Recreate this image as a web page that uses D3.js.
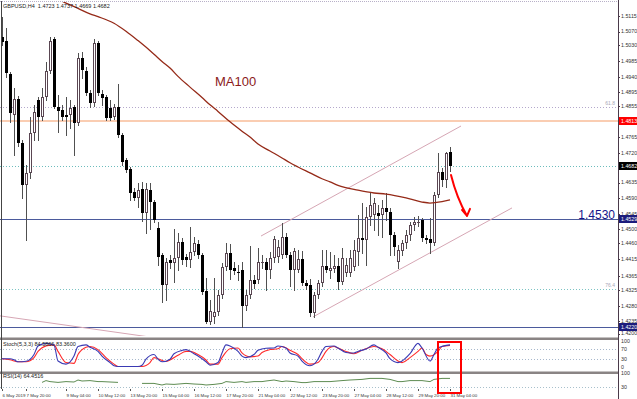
<!DOCTYPE html>
<html>
<head>
<meta charset="utf-8">
<script src="https://cdn.jsdelivr.net/npm/d3@7"></script>
<style>
  body { margin: 0; background: #fff; }
  svg { display: block; font-family: "Liberation Sans", Arial, sans-serif; }
</style>
</head>
<body>
<svg id="chart" width="637" height="399"></svg>
<script>

// ---- candles (GBPUSD H4), one entry per bar ----
let opens = [1.5054,1.5043,1.4948,1.4830,1.4876,1.4749,1.4628,1.4663,1.4778,1.4873,
             1.4824,1.4882,1.4957,1.5049,1.4853,1.4844,1.4830,1.4830,1.4853,1.4807,
             1.4994,1.4957,1.4893,1.4864,1.5037,1.4890,1.4882,1.4850,1.4824,1.4853,
             1.4772,1.4700,1.4674,1.4608,1.4591,1.4617,1.4548,1.4614,1.4579,1.4504,
             1.4427,1.4340,1.4412,1.4404,1.4418,1.4464,1.4421,1.4412,1.4435,1.4458,
             1.4427,1.4323,1.4234,1.4248,1.4262,1.4311,1.4392,1.4432,1.4389,1.4378,
             1.4383,1.4280,1.4311,1.4355,1.4355,1.4404,1.4406,1.4383,1.4418,1.4421,
             1.4427,1.4478,1.4427,1.4383,1.4383,1.4415,1.4346,1.4340,1.4259,1.4311,
             1.4346,1.4395,1.4381,1.4386,1.4395,1.4349,1.4375,1.4375,1.4392,1.4435,
             1.4476,1.4470,1.4536,1.4542,1.4548,1.4542,1.4562,1.4550,1.4484,1.4406,
             1.4438,1.4461,1.4484,1.4513,1.4519,1.4527,1.4476,1.4473,1.4461,1.4599,
             1.4666,1.4643,1.4723]
let highs = [1.5112,1.5080,1.4954,1.4908,1.4885,1.4758,1.4686,1.4824,1.4859,1.4882,
             1.4908,1.4982,1.5054,1.5054,1.4887,1.4859,1.4882,1.4873,1.4859,1.5008,
             1.5011,1.4968,1.4902,1.5049,1.5043,1.4902,1.4887,1.4873,1.4862,1.4919,
             1.4778,1.4706,1.4680,1.4620,1.4634,1.4637,1.4634,1.4634,1.4585,1.4522,
             1.4432,1.4418,1.4427,1.4502,1.4490,1.4476,1.4429,1.4507,1.4478,1.4470,
             1.4432,1.4360,1.4297,1.4360,1.4326,1.4404,1.4461,1.4458,1.4406,1.4398,
             1.4406,1.4326,1.4453,1.4369,1.4447,1.4427,1.4418,1.4435,1.4481,1.4470,
             1.4519,1.4490,1.4435,1.4447,1.4441,1.4438,1.4355,1.4357,1.4320,1.4355,
             1.4441,1.4441,1.4435,1.4427,1.4418,1.4447,1.4418,1.4441,1.4470,1.4542,
             1.4576,1.4565,1.4605,1.4591,1.4571,1.4585,1.4605,1.4562,1.4493,1.4455,
             1.4470,1.4499,1.4522,1.4536,1.4539,1.4533,1.4484,1.4533,1.4608,1.4720,
             1.4677,1.4723,1.4737]
let lows = [1.5031,1.4939,1.4810,1.4715,1.4741,1.4591,1.4470,1.4648,1.4758,1.4758,
            1.4815,1.4873,1.4951,1.4850,1.4781,1.4815,1.4772,1.4792,1.4715,1.4801,
            1.4936,1.4887,1.4853,1.4856,1.4887,1.4859,1.4815,1.4815,1.4818,1.4766,
            1.4686,1.4666,1.4585,1.4585,1.4565,1.4525,1.4490,1.4502,1.4522,1.4398,
            1.4291,1.4297,1.4389,1.4349,1.4383,1.4401,1.4395,1.4392,1.4427,1.4418,
            1.4314,1.4231,1.4228,1.4231,1.4254,1.4303,1.4383,1.4357,1.4372,1.4355,
            1.4219,1.4268,1.4303,1.4332,1.4346,1.4389,1.4326,1.4360,1.4406,1.4406,
            1.4418,1.4421,1.4337,1.4326,1.4378,1.4340,1.4329,1.4251,1.4248,1.4303,
            1.4337,1.4378,1.4360,1.4378,1.4329,1.4343,1.4366,1.4366,1.4383,1.4398,
            1.4432,1.4398,1.4513,1.4499,1.4484,1.4478,1.4527,1.4427,1.4427,1.4389,
            1.4427,1.4447,1.4470,1.4499,1.4510,1.4467,1.4461,1.4432,1.4455,1.4594,
            1.4625,1.4622,1.4669]
let closes = [1.5040,1.4951,1.4836,1.4876,1.4749,1.4628,1.4663,1.4778,1.4838,1.4824,
              1.4882,1.4957,1.5043,1.4853,1.4841,1.4824,1.4824,1.4850,1.4807,1.4994,
              1.4959,1.4893,1.4864,1.5037,1.4893,1.4879,1.4821,1.4821,1.4853,1.4772,
              1.4695,1.4671,1.4605,1.4591,1.4614,1.4548,1.4617,1.4579,1.4527,1.4421,
              1.4340,1.4406,1.4404,1.4418,1.4464,1.4412,1.4412,1.4435,1.4461,1.4427,
              1.4320,1.4234,1.4265,1.4262,1.4311,1.4392,1.4432,1.4383,1.4381,1.4375,
              1.4280,1.4311,1.4355,1.4343,1.4406,1.4406,1.4383,1.4418,1.4473,1.4450,
              1.4478,1.4427,1.4383,1.4438,1.4415,1.4346,1.4337,1.4259,1.4311,1.4346,
              1.4395,1.4383,1.4389,1.4395,1.4349,1.4418,1.4398,1.4418,1.4441,1.4476,
              1.4470,1.4536,1.4571,1.4576,1.4539,1.4562,1.4550,1.4484,1.4450,1.4441,
              1.4461,1.4484,1.4513,1.4522,1.4522,1.4476,1.4470,1.4461,1.4599,1.4666,
              1.4643,1.4720,1.4682]

// ---- MA100 read at some bars ----
let maIdx = [13,16,19,22,24,28,31,34,38,40,42,44,47,50,52,54,57,60,62,64,67,70,72,74,77,80,82,84,89,93,96,101,105,107,110,112]
let maVal = [1.5170,1.5152,1.5137,1.5121,1.5113,1.5094,1.5071,1.5044,1.5005,1.4984,1.4965,1.4941,1.4910,1.4880,1.4859,1.4840,1.4810,1.4783,
             1.4766,1.4746,1.4726,1.4706,1.4692,1.4680,1.4663,1.4646,1.4637,1.4627,1.4613,1.4605,1.4602,1.4591,1.4579,1.4576,1.4580,1.4585]

// ---- stochastic %K / %D ----
let stoKIdx = [0,2,3,4,6,8,9,11,13,14,16,18,19,21,22,24,25,27,28,29,34,35,36,38,39,40,42,43,45,46,48,49,51,52,54,55,56,57,59,60,
               61,63,64,66,68,69,71,72,74,75,77,78,79,80,81,83,84,86,88,89,91,93,94,96,97,99,100,102,104,105,107,108,109,112]
let stoK = [32,32,28,20,22,48,81,91,85,23,11,42,79,85,76,60,42,17,5,2,2,7,30,48,30,20,30,51,64,67,51,42,20,7,17,54,85,81,60,42,
            36,48,64,72,73,81,73,54,42,23,5,11,30,60,79,81,73,56,54,60,69,85,76,54,32,17,23,51,91,73,23,48,73,85]
let stoDIdx = [0,2,4,6,8,9,11,13,14,16,18,19,21,22,24,26,28,29,35,37,38,39,41,42,44,46,47,49,51,52,54,55,57,59,60,62,64,65,67,69,
               70,72,74,75,77,79,80,81,82,83,84,86,88,90,93,95,97,99,100,102,104,105,106,107,109,110,112]
let stoD = [32,28,20,20,36,60,81,85,60,17,14,48,76,79,67,36,11,2,2,17,36,32,21,27,45,60,60,48,27,11,11,36,70,73,54,39,42,56,67,70,
            79,64,48,32,11,17,35,60,75,79,73,60,51,64,79,70,48,23,17,36,60,73,48,42,60,79,83]

// ---- RSI(14), null = not drawn ----
let rsiIdx = [10,11,12,14,16,18,19,20,22,24,25,29,32,35,38,40,41,43,46,48,50,51,53,55,56,58,60,61,63,65,66,68,70,71,73,75,76,78,80,82,
              85,87,90,92,95,97,99,100,102,105,107,108,110,112]
let rsiVal = [53,62,57,53,57,55,65,60,62,57,57,53,null,48,48,40,45,43,48,45,43,40,43,48,57,53,57,53,57,57,60,65,57,60,57,52,52,57,57,57,
              62,65,68,73,73,68,57,57,62,62,57,68,73,73]

// ---- levels and drawn objects ----
let resistPrice = 1.4813
let lastPrice = 1.4682
let supportPrices = [1.4529, 1.4220]
let fibPrices = [1.4853, 1.4329]
let fibNames = ["61.8", "76.4"]
let channelUpper = [[64.75, 1.4481], [114.75, 1.4798]]
let channelLower = [[77.75, 1.4248], [127.5, 1.4562]]
let oldTrend = [[-0.5, 1.4251], [37, 1.4190]]
let arrowPts = [[112.25, 1.4657], [116.25, 1.4539]]
let boxBars = [109, 114.75]

let priceTicks = [1.5115,1.5070,1.5030,1.4985,1.4940,1.4895,1.4855,1.4765,1.4720,1.4635,1.4590,1.4545,
                  1.4500,1.4460,1.4415,1.4365,1.4325,1.4280,1.4235,1.4200]
let timeIdx = [0,6,16,24,32,40,48,56,64,72,80,88,96,104,112]
let timeLabels = ["6 May 2019","7 May 20:00","9 May 04:00","10 May 12:00","13 May 20:00","15 May 04:00","16 May 12:00",
                  "17 May 20:00","21 May 04:00","22 May 12:00","23 May 20:00","27 May 04:00","28 May 12:00","29 May 20:00","31 May 04:00"]
let stoTicks = [100, 70, 30, 0]
let rsiTicks = [100, 30]

// ---------------------------------------------------------------
let svg = d3.select('#chart')
let axisX = 618
let mainBox = {top: 2, bottom: 336}
let stoBox = {top: 339.5, bottom: 370.5}
let rsiBox = {top: 373, bottom: 389}

let x = d3.scaleLinear().domain([0, 112]).range([2, 450])
let y = d3.scaleLinear().domain([1.4193, 1.5161]).range([336, 0])
let ySto = d3.scaleLinear().domain([0, 100]).range([367, 341])
let yRsi = d3.scaleLinear().domain([30, 100]).range([387, 373])
let crisp = v => Math.round(v) + 0.5

let defs = svg.append('defs')
function clip(id, top, bottom) {
    defs.append('clipPath').attr('id', id)
        .append('rect').attr('x', 0).attr('y', top).attr('width', axisX).attr('height', bottom - top)
}
clip('clipMain', mainBox.top, mainBox.bottom)
clip('clipSto', stoBox.top, stoBox.bottom)
clip('clipRsi', rsiBox.top, rsiBox.bottom)

let mainG = svg.append('g').attr('clip-path', 'url(#clipMain)')

// horizontal levels
function hline(g, yy, color, width, dash) {
    g.append('line')
        .attr('x1', 0).attr('x2', axisX)
        .attr('y1', crisp(yy)).attr('y2', crisp(yy))
        .attr('stroke', color).attr('stroke-width', width)
        .attr('stroke-dasharray', dash || null)
}
hline(mainG, y(fibPrices[0]), '#b4a8cc', 1, '1,2')
hline(mainG, y(fibPrices[1]), '#7cc4c4', 1, '1,2')
hline(mainG, y(lastPrice), '#6cbcbc', 1, '1,2')
mainG.append('line')
    .attr('x1', 0).attr('x2', axisX)
    .attr('y1', Math.round(y(resistPrice))).attr('y2', Math.round(y(resistPrice)))
    .attr('stroke', '#f8bc98').attr('stroke-width', 1.6)
supportPrices.forEach(p => hline(mainG, y(p), '#4b5a9c', 1.2))

// trend lines
let segLine = d3.line().x(d => x(d[0])).y(d => y(d[1]))
;[channelUpper, channelLower, oldTrend].forEach(seg => {
    mainG.append('path').attr('d', segLine(seg))
        .attr('fill', 'none').attr('stroke', '#d6a6b4').attr('stroke-width', 1)
})

// candles
let bars = mainG.append('g').selectAll('g').data(d3.range(opens.length)).join('g')
bars.append('line')
    .attr('x1', i => Math.round(x(i)) + 0.5).attr('x2', i => Math.round(x(i)) + 0.5)
    .attr('y1', i => Math.round(y(highs[i]))).attr('y2', i => Math.round(y(lows[i])) + 1)
    .attr('stroke', '#505050').attr('stroke-width', 1)
bars.each(function (i) {
    let g = d3.select(this)
    let cx = Math.round(x(i))
    let top = Math.round(y(Math.max(opens[i], closes[i])))
    let bot = Math.round(y(Math.min(opens[i], closes[i])))
    let h = Math.max(1, bot - top)
    if (closes[i] >= opens[i]) {
        g.append('rect')
            .attr('x', cx - 0.5).attr('y', top + 0.5)
            .attr('width', 2).attr('height', Math.max(0, h - 1) + (h < 2 ? 0.01 : 0))
            .attr('fill', '#fff').attr('stroke', '#5a4652').attr('stroke-width', 1)
    } else {
        g.append('rect')
            .attr('x', cx - 1).attr('y', top)
            .attr('width', 3).attr('height', h)
            .attr('fill', '#000')
    }
})

// MA100
let maLine = d3.line().x((d, k) => x(maIdx[k])).y(d => y(d)).curve(d3.curveMonotoneX)
mainG.append('path').attr('d', maLine(maVal))
    .attr('fill', 'none').attr('stroke', '#952a18').attr('stroke-width', 1.3)

// red arrow
let a0 = [x(arrowPts[0][0]), y(arrowPts[0][1])]
let a1 = [x(arrowPts[1][0]), y(arrowPts[1][1])]
mainG.append('path')
    .attr('d', 'M' + a0 + 'Q' + (a0[0] + (a1[0] - a0[0]) * 0.35) + ',' + (a0[1] + (a1[1] - a0[1]) * 0.55) + ' ' + a1
          + 'M' + (a1[0] - 5) + ',' + (a1[1] - 6) + 'L' + a1 + 'L' + (a1[0] + 3) + ',' + (a1[1] - 7))
    .attr('fill', 'none').attr('stroke', '#ff0000').attr('stroke-width', 2)
    .attr('stroke-linecap', 'round').attr('stroke-linejoin', 'round')

// texts on main panel
svg.append('text').attr('x', 215).attr('y', 86).attr('font-size', 13)
    .attr('fill', '#8b1a1a').text('MA100')
svg.append('text').attr('x', 615).attr('y', 219).attr('font-size', 12)
    .attr('text-anchor', 'end').attr('fill', '#14148a').text('1.4530')
fibPrices.forEach((p, k) => {
    svg.append('text').attr('x', 615).attr('y', y(p) - 1.5).attr('font-size', 5)
        .attr('text-anchor', 'end').attr('fill', '#a8a8b8').text(fibNames[k])
})
svg.append('text').attr('x', 3).attr('y', 8).attr('font-size', 5.5).attr('fill', '#222')
    .attr('xml:space', 'preserve')
    .text('GBPUSD,H4  1.4723 1.4737 1.4669 1.4682')

// ---- stochastic panel ----
let stoG = svg.append('g').attr('clip-path', 'url(#clipSto)')
;[70, 30].forEach(v => hline(stoG, ySto(v), '#a8b8cc', 1, '1,2'))
let kLine = d3.line().x((d, k) => x(stoKIdx[k])).y(d => ySto(d)).curve(d3.curveMonotoneX)
let dLine = d3.line().x((d, k) => x(stoDIdx[k])).y(d => ySto(d)).curve(d3.curveMonotoneX)
stoG.append('path').attr('d', dLine(stoD)).attr('fill', 'none').attr('stroke', '#ff2a2a').attr('stroke-width', 1.1)
stoG.append('path').attr('d', kLine(stoK)).attr('fill', 'none').attr('stroke', '#3a3ab4').attr('stroke-width', 1.1)
svg.append('text').attr('x', 3).attr('y', 346).attr('font-size', 5.5).attr('fill', '#222')
    .text('Stoch(5,3,3) 84.5866 83.3600')

// ---- RSI panel ----
let rsiG = svg.append('g').attr('clip-path', 'url(#clipRsi)')
hline(rsiG, yRsi(30), '#a8c0cc', 1, '1,2')
let rsiLine = d3.line().defined(d => d !== null)
    .x((d, k) => x(rsiIdx[k])).y(d => yRsi(d))
rsiG.append('path').attr('d', rsiLine(rsiVal)).attr('fill', 'none').attr('stroke', '#5e8c52').attr('stroke-width', 1)
svg.append('text').attr('x', 3).attr('y', 378).attr('font-size', 5.5).attr('fill', '#222')
    .text('RSI(14) 64.4516')

// panel separators and frame
;[337.5, 371.5].forEach(yy => {
    svg.append('rect').attr('x', 0).attr('y', yy).attr('width', axisX).attr('height', 2.5).attr('fill', '#8a8484')
})
svg.append('line').attr('x1', 0).attr('x2', axisX).attr('y1', 1.5).attr('y2', 1.5)
    .attr('stroke', '#b8b0c8').attr('stroke-dasharray', '1,1')
svg.append('line').attr('x1', 1.5).attr('x2', 1.5).attr('y1', 1).attr('y2', 389)
    .attr('stroke', '#444').attr('stroke-width', 1)
svg.append('line').attr('x1', axisX + 0.5).attr('x2', axisX + 0.5).attr('y1', 0).attr('y2', 399)
    .attr('stroke', '#4a3a4a').attr('stroke-width', 1)

// red rectangle over the oscillators
svg.append('rect')
    .attr('x', x(boxBars[0])).attr('y', 342)
    .attr('width', x(boxBars[1]) - x(boxBars[0])).attr('height', 51)
    .attr('fill', 'none').attr('stroke', '#ff0000').attr('stroke-width', 2)

// ---- right price axis ----
let axisG = svg.append('g').attr('font-size', 5.3).attr('fill', '#333')
priceTicks.forEach(p => {
    let yy = y(p)
    axisG.append('line').attr('x1', axisX).attr('x2', axisX + 2).attr('y1', crisp(yy)).attr('y2', crisp(yy)).attr('stroke', '#4a3a4a')
    axisG.append('text').attr('x', axisX + 3).attr('y', yy).attr('dy', '0.35em').text(p.toFixed(4))
})
stoTicks.forEach(v => {
    axisG.append('text').attr('x', axisX + 3).attr('y', ySto(v)).attr('dy', '0.35em').text(v)
})
rsiTicks.forEach(v => {
    axisG.append('text').attr('x', axisX + 3).attr('y', yRsi(v)).attr('dy', '0.35em').text(v)
})

function priceBox(p, fill) {
    let yy = Math.round(y(p))
    svg.append('rect').attr('x', axisX + 1).attr('y', yy - 4).attr('width', 637 - axisX - 1).attr('height', 8).attr('fill', fill)
    svg.append('text').attr('x', axisX + 3).attr('y', yy).attr('dy', '0.35em')
        .attr('font-size', 5.3).attr('fill', '#fff').text(p.toFixed(4))
}
priceBox(resistPrice, '#ff0000')
priceBox(lastPrice, '#000000')
supportPrices.forEach(p => priceBox(p, '#1c1c7c'))

// ---- time axis ----
let timeG = svg.append('g').attr('font-size', 4.4).attr('fill', '#333')
timeIdx.forEach((i, k) => {
    let xx = Math.round(x(i)) + 0.5
    timeG.append('line').attr('x1', xx).attr('x2', xx).attr('y1', 389).attr('y2', 391).attr('stroke', '#555')
    timeG.append('text').attr('x', xx).attr('y', 396.5).text(timeLabels[k])
})

</script>
</body>
</html>
